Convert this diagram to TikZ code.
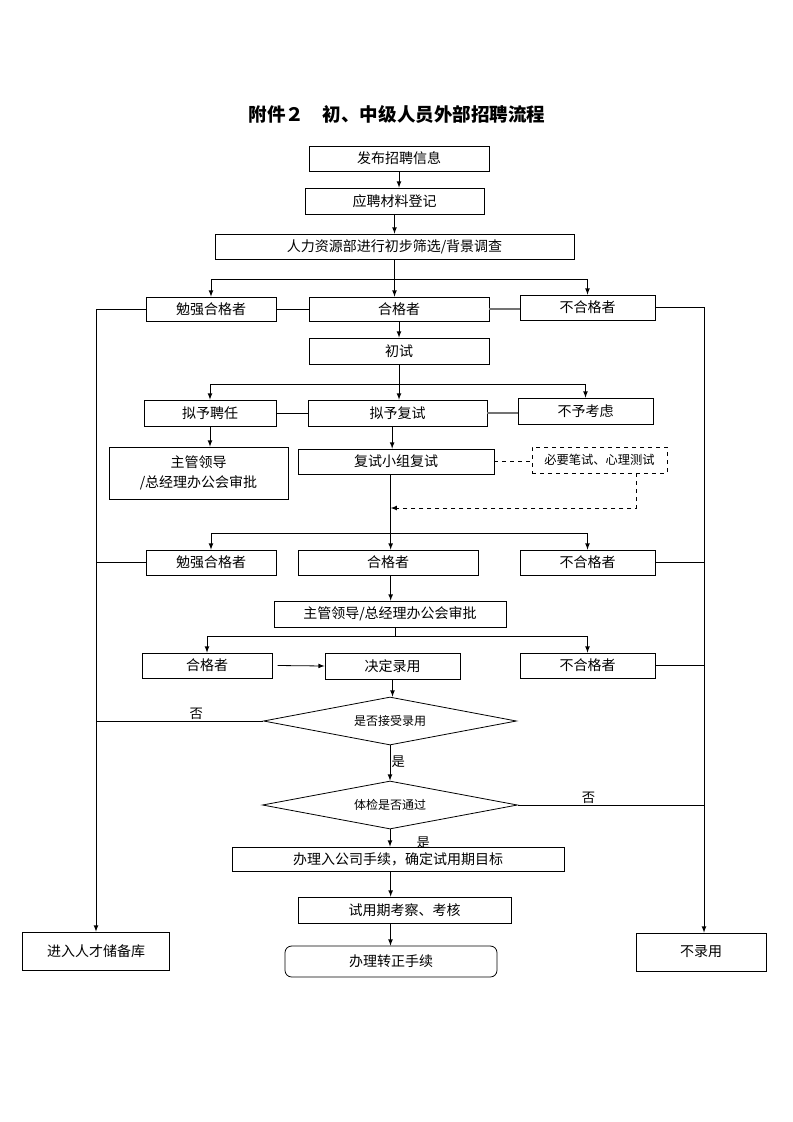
\documentclass[tikz,border=0pt]{standalone}
\usepackage{fontspec}
\setmainfont{Noto Sans CJK SC}
\usetikzlibrary{shapes.geometric}

\tikzset{
	box/.style={draw, inner sep=0pt, font=\fontsize{10.5}{12}\selectfont},
	wh/.style 2 args={minimum width=#1*0.75pt, minimum height=#2*0.75pt},
	dbox/.style={box, dashed, font=\fontsize{9.2}{10}\selectfont},
	rbox/.style={box, rounded corners=5pt},
	dia/.style={draw, diamond, aspect=5, inner sep=0pt, font=\fontsize{9}{10}\selectfont},
	arr/.style={-latex},
	lbl/.style={font=\fontsize{10}{12}\selectfont, inner sep=1pt},
	joint/.style={draw=black!55, line width=1pt}
}

\begin{document}
\begin{tikzpicture}[x=0.75pt, y=-0.75pt, line width=0.6pt]
	\useasboundingbox (0,0) rectangle (793,1122);

	% Title:
	\node[font=\bfseries\fontsize{13.9}{16}\selectfont] (title) at (397,114) {附件２　初、中级人员外部招聘流程};

	% Boxes:
	\node[box, wh={180}{25}] (b1) at (399,158.5) {发布招聘信息};
	\node[box, wh={179}{26}] (b2) at (394.5,201) {应聘材料登记};
	\node[box, wh={359}{25}] (b3) at (394.5,246.5) {人力资源部进行初步筛选/背景调查};

	\node[box, wh={130}{24}] (c1) at (211,309) {勉强合格者};
	\node[box, wh={180}{24}] (c2) at (399,309) {合格者};
	\node[box, wh={135}{25}] (c3) at (587.5,307.5) {不合格者};

	\node[box, wh={180}{26}] (d) at (399,351) {初试};

	\node[box, wh={132}{26}] (e1) at (210,413) {拟予聘任};
	\node[box, wh={179}{26}] (e2) at (397.5,413) {拟予复试};
	\node[box, wh={135}{26}] (e3) at (585.5,411) {不予考虑};

	\node[box, wh={179}{52}, align=center, font=\fontsize{10.5}{15}\selectfont] (f1) at (198.5,473) {主管领导\\/总经理办公会审批};
	\node[box, wh={196}{25}] (g) at (396,461.5) {复试小组复试};
	\node[dbox, wh={135}{26}] (h) at (599.5,460) {必要笔试、心理测试};

	\node[box, wh={130}{25}] (i1) at (211,562.5) {勉强合格者};
	\node[box, wh={180}{25}] (i2) at (388,562.5) {合格者};
	\node[box, wh={135}{25}] (i3) at (587.5,562.5) {不合格者};

	\node[box, wh={232}{26}] (j) at (390,614) {主管领导/总经理办公会审批};

	\node[box, wh={130}{25}] (k1) at (207,665.5) {合格者};
	\node[box, wh={135}{26}] (k2) at (392.5,666) {决定录用};
	\node[box, wh={135}{25}] (k3) at (587.5,665.5) {不合格者};

	\node[dia, minimum width=253*0.75pt, minimum height=48*0.75pt] (dia1) at (390,721) {是否接受录用};
	\node[dia, minimum width=255*0.75pt, minimum height=48*0.75pt] (dia2) at (390,805) {体检是否通过};

	\node[box, wh={332}{24}] (l) at (398,859) {办理入公司手续，确定试用期目标};
	\node[box, wh={213}{26}] (m) at (404.5,910) {试用期考察、考核};
	\node[rbox, wh={212}{31}] (n) at (391,961.5) {办理转正手续};

	\node[box, wh={147}{38}] (o) at (96,951) {进入人才储备库};
	\node[box, wh={130}{38}] (p) at (701,952) {不录用};

	% Branch levels and trunks:
	\coordinate (br1) at (0,279);
	\coordinate (br2) at (0,384);
	\coordinate (br3) at (0,533);
	\coordinate (br4) at (0,636);
	\coordinate (dj) at (0,508);
	\coordinate (rt) at ([xshift=2.25pt]p.north);

	% Lines:
	\draw[arr] (b1.south) -- (b1.south |- b2.north);
	\draw[arr] (b2.south) -- (b2.south |- b3.north);
	\draw (b3.south) -- (b3.south |- br1);
	\draw[arr] (b3.south |- br1) -| (c1.north);
	\draw[arr] (b3.south |- br1) -| (c3.north);
	\draw[arr] (b3.south |- br1) -- (b3.south |- c2.north);
	\draw (c1.east) -- (c2.west);
	\draw[joint] (c2.east) -- (c2.east -| c3.west);

	\draw[arr] (c2.south) -- (c2.south |- d.north);
	\draw (d.south) -- (d.south |- br2);
	\draw[arr] (d.south |- br2) -| (e1.north);
	\draw[arr] (d.south |- br2) -| (e3.north);
	\draw[arr] (d.south |- br2) -- (d.south |- e2.north);
	\draw (e1.east) -- (e2.west);
	\draw[joint] (e2.east) -- (e2.east -| e3.west);

	\draw[arr] (e1.south) -- (e1.south |- f1.north);
	\draw[arr] ([xshift=-4pt]e2.south) -- ([xshift=-4pt]e2.south |- g.north);
	\draw[dashed] (g.east) -- (g.east -| h.west);
	\draw[dashed, arr] ([xshift=-23pt]h.south east) |- ([xshift=-4pt]g.south |- dj);

	\draw ([xshift=-4pt]g.south) -- ([xshift=-4pt]g.south |- br3);
	\draw[arr] ([xshift=-4pt]g.south |- br3) -| (i1.north);
	\draw[arr] ([xshift=-4pt]g.south |- br3) -| (i3.north);
	\draw[arr] ([xshift=-4pt]g.south |- br3) -- ([xshift=-4pt]g.south |- i2.north);

	\draw[arr] ([xshift=2pt]i2.south) -- ([xshift=2pt]i2.south |- j.north);
	\draw ([xshift=4pt]j.south) -- ([xshift=4pt]j.south |- br4);
	\draw[arr] ([xshift=4pt]j.south |- br4) -| (k1.north);
	\draw[arr] ([xshift=4pt]j.south |- br4) -| (k3.north);
	\draw[arr] ([xshift=4pt]k1.east) -- (k2.west);

	\draw[arr] (k2.south) -- (k2.south |- dia1.north);
	\draw[arr] (dia1.south) -- node[lbl, pos=0.45, right] {是} (dia2.north);
	\draw[arr] (dia2.south) -- node[lbl, pos=0.75, xshift=25pt] {是} (dia2.south |- l.north);
	\draw[arr] ([xshift=-5.5pt]l.south) -- ([xshift=-5.5pt]l.south |- m.north);
	\draw[arr] ([xshift=-10.5pt]m.south) -- ([xshift=-10.5pt]m.south |- n.north);

	% Left and right trunks:
	\draw[arr] (c1.west) -| (o.north);
	\draw (i1.west) -- (i1.west -| o.north);
	\draw (dia1.west) -- node[lbl, pos=0.4, above] {否} (dia1.west -| o.north);

	\draw[arr] (c3.east) -| (rt);
	\draw (i3.east) -- (i3.east -| rt);
	\draw (k3.east) -- (k3.east -| rt);
	\draw (dia2.east) -- node[lbl, pos=0.38, above] {否} (dia2.east -| rt);

\end{tikzpicture}
\end{document}
